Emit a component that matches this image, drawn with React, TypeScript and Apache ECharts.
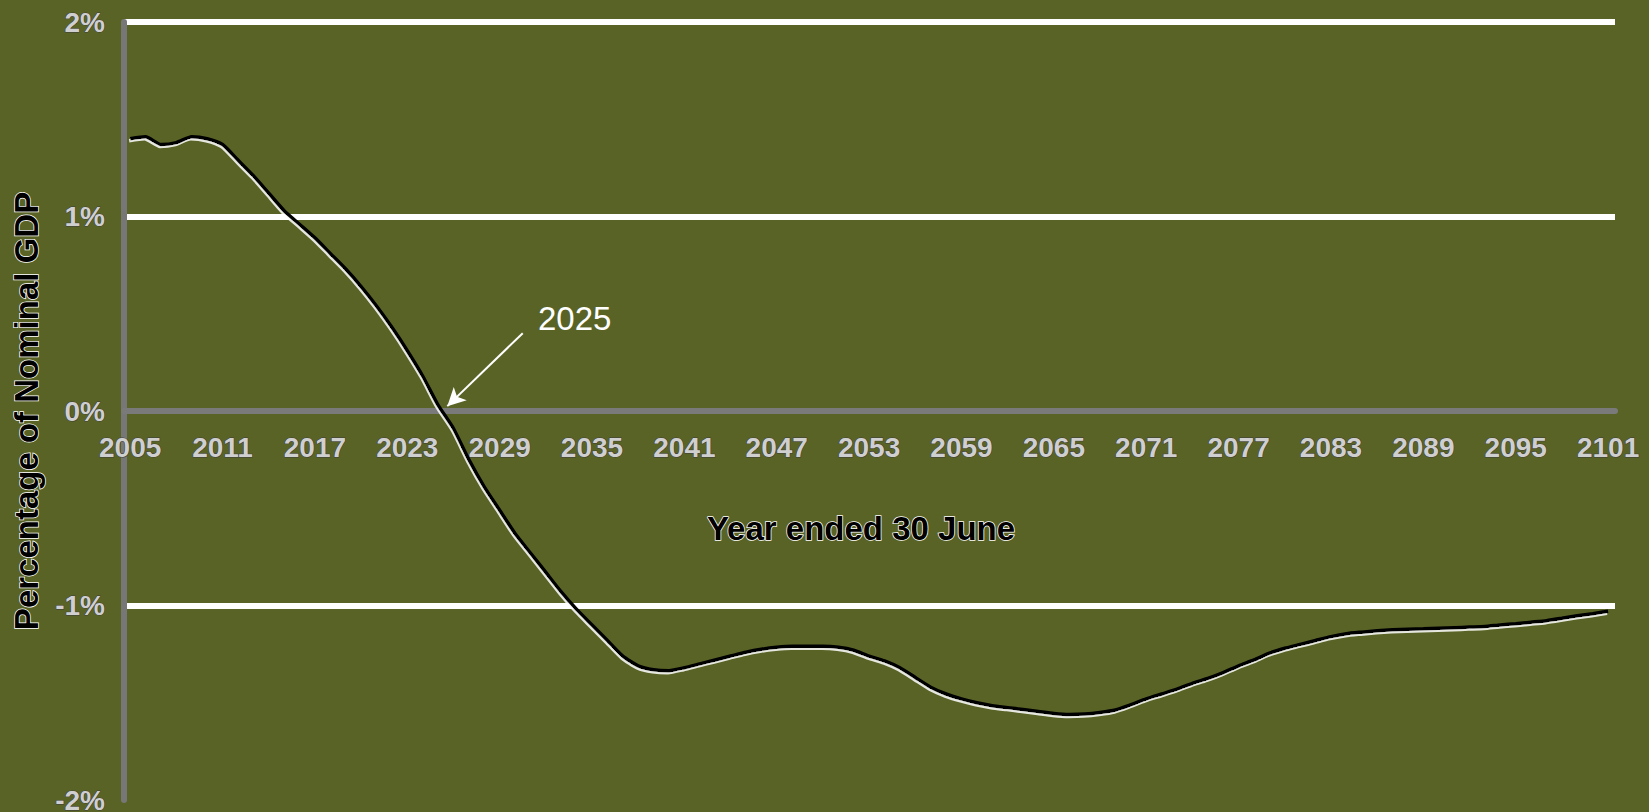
import React, { useEffect, useRef } from "react";
import * as echarts from "echarts";

const years: number[] = [
  2005, 2006, 2007, 2008, 2009, 2010, 2011, 2012, 2013, 2014, 2015, 2016, 2017, 2018, 2019, 2020,
  2021, 2022, 2023, 2024, 2025, 2026, 2027, 2028, 2029, 2030, 2031, 2032, 2033, 2034, 2035, 2036,
  2037, 2038, 2039, 2040, 2041, 2042, 2043, 2044, 2045, 2046, 2047, 2048, 2049, 2050, 2051, 2052,
  2053, 2054, 2055, 2056, 2057, 2058, 2059, 2060, 2061, 2062, 2063, 2064, 2065, 2066, 2067, 2068,
  2069, 2070, 2071, 2072, 2073, 2074, 2075, 2076, 2077, 2078, 2079, 2080, 2081, 2082, 2083, 2084,
  2085, 2086, 2087, 2088, 2089, 2090, 2091, 2092, 2093, 2094, 2095, 2096, 2097, 2098, 2099, 2100,
  2101,
];

const balancePct: number[] = [
  1.40, 1.41, 1.37, 1.38, 1.41, 1.40, 1.37, 1.29, 1.21, 1.12, 1.03, 0.96, 0.89, 0.81, 0.73, 0.64,
  0.54, 0.43, 0.31, 0.18, 0.03, -0.09, -0.25, -0.39, -0.51, -0.63, -0.73, -0.83, -0.93, -1.02, -1.10, -1.18,
  -1.26, -1.31, -1.33, -1.335, -1.32, -1.30, -1.28, -1.26, -1.24, -1.225, -1.215, -1.21, -1.21, -1.21, -1.215, -1.23,
  -1.26, -1.285, -1.32, -1.37, -1.42, -1.455, -1.48, -1.50, -1.515, -1.525, -1.535, -1.545, -1.555, -1.56, -1.558, -1.55,
  -1.537, -1.51, -1.48, -1.455, -1.43, -1.40, -1.375, -1.345, -1.31, -1.28, -1.245, -1.22, -1.20, -1.18, -1.16, -1.145,
  -1.137, -1.13, -1.125, -1.122, -1.12, -1.117, -1.114, -1.111, -1.108, -1.10, -1.094, -1.086, -1.078, -1.066, -1.053, -1.042,
  -1.03,
];

const xTickYears: number[] = [
  2005, 2011, 2017, 2023, 2029, 2035, 2041, 2047, 2053, 2059, 2065, 2071, 2077, 2083, 2089, 2095, 2101,
];

const annotationText = "2025";
const arrowFrom: [number, number] = [2030.5, 0.40];
const arrowTo: [number, number] = [2025.6, 0.025];

const xAxisTitle = "Year ended 30 June";
const yAxisTitle = "Percentage of Nominal GDP";

export default function App() {
  const ref = useRef<HTMLDivElement>(null);

  useEffect(() => {
    if (!ref.current) return;
    const chart = echarts.init(ref.current, undefined, { renderer: "svg" });
    const tickFont = "'Liberation Sans Narrow', 'Liberation Sans', Arial, sans-serif";
    const nameFont = "'Liberation Sans', Arial, sans-serif";
    const seriesData = years.map((y, i) => [y, balancePct[i]]);

    chart.setOption({
      animation: false,
      backgroundColor: "#5a6326",
      grid: { left: 124, right: 34, top: 22, bottom: 12, containLabel: false, outerBoundsMode: "none" },
      xAxis: {
        type: "value",
        min: 2004.6,
        max: 2101.45,
        position: "bottom",
        offset: -389,
        name: xAxisTitle,
        nameLocation: "middle",
        nameGap: 101,
        nameTextStyle: {
          fontFamily: nameFont,
          fontSize: 33,
          fontWeight: "bold",
          color: "#000",
          textBorderColor: "#fff",
          textBorderWidth: 1.5,
          padding: [0, 17, 0, 0],
        },
        axisLine: { show: true, onZero: false, lineStyle: { color: "#7a7a7a", width: 6 } },
        axisTick: { show: false },
        splitLine: { show: false },
        axisLabel: {
          customValues: xTickYears,
          margin: 22,
          fontFamily: tickFont,
          fontSize: 28,
          fontWeight: "bold",
          color: "#cfcfcf",
          textBorderColor: "#3c3c3c",
          textBorderWidth: 1,
          formatter: (v: number) => String(Math.round(v)),
        },
      },
      yAxis: {
        type: "value",
        min: -2,
        max: 2,
        interval: 1,
        name: yAxisTitle,
        nameLocation: "middle",
        nameGap: 79,
        nameTextStyle: {
          fontFamily: nameFont,
          fontSize: 33,
          fontWeight: "bold",
          color: "#000",
          textBorderColor: "#fff",
          textBorderWidth: 1.5,
        },
        axisLine: { show: true, lineStyle: { color: "#777777", width: 6 } },
        axisTick: { show: false },
        splitLine: {
          show: true,
          lineStyle: {
            width: 6,
            color: ["rgba(0,0,0,0)", "#ffffff", "rgba(0,0,0,0)", "#ffffff", "#ffffff"],
          },
        },
        axisLabel: {
          margin: 19,
          fontFamily: tickFont,
          fontSize: 28,
          fontWeight: "bold",
          color: "#cfcfcf",
          textBorderColor: "#3c3c3c",
          textBorderWidth: 1,
          formatter: (v: number) => `${v}%`,
        },
      },
      series: [
        {
          type: "line",
          data: seriesData,
          showSymbol: false,
          smooth: 0.2,
          z: 5,
          lineStyle: {
            color: "#000000",
            width: 3.5,
            shadowColor: "rgba(255,255,255,0.85)",
            shadowBlur: 0,
            shadowOffsetX: -1,
            shadowOffsetY: 2,
          },
          markLine: {
            silent: true,
            symbol: ["none", "arrow"],
            symbolSize: [14, 18],
            label: { show: false },
            lineStyle: { color: "#ffffff", width: 2, type: "solid" },
            data: [[{ coord: arrowFrom }, { coord: arrowTo }]],
            z: 6,
          },
        },
      ],
      graphic: [
        {
          type: "text",
          left: 538,
          top: 302,
          style: {
            text: annotationText,
            fontFamily: nameFont,
            fontSize: 33,
            fill: "#ffffff",
          },
          z: 10,
        },
      ],
    });

    return () => chart.dispose();
  }, []);

  return (
    <div
      ref={ref}
      style={{ position: "absolute", left: 0, top: 0, width: 1649, height: 812 }}
    />
  );
}
